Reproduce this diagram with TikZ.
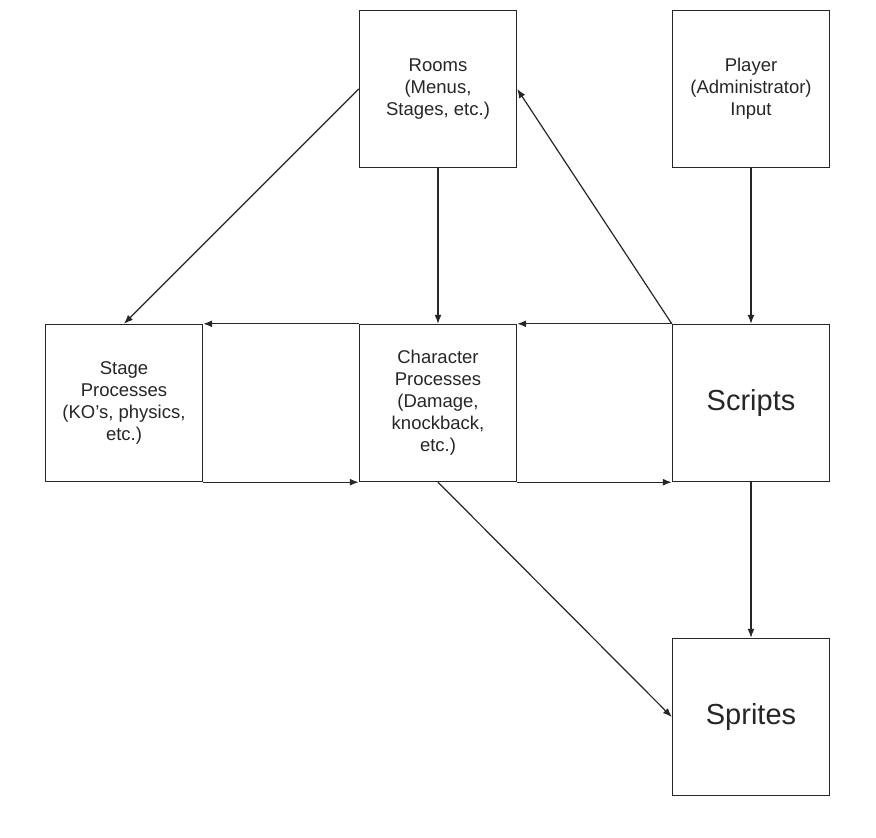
\documentclass[tikz,border=0pt]{standalone}
\usepackage{fontspec}
\setmainfont{Liberation Sans}
\usetikzlibrary{arrows.meta}
\begin{document}
\begin{tikzpicture}[x=1pt,y=-1pt,
  box/.style={draw=black!85, line width=1.4pt, minimum width=157pt, minimum height=157pt, inner sep=0pt, align=center, text=black!85},
  small/.style={font=\fontsize{18.5}{22}\selectfont},
  big/.style={font=\fontsize{29}{34}\selectfont},
  conn/.style={draw=black!85, line width=1.2pt, -{Latex[length=9pt,width=7pt]}}]
\useasboundingbox (0,0) rectangle (876,838);
\node[box,small] (rooms) at (438,89) {Rooms\\(Menus,\\Stages, etc.)};
\node[box,small] (player) at (751,89) {Player\\(Administrator)\\Input};
\node[box,small] (stage) at (124,403) {Stage\\Processes\\(KO's, physics,\\etc.)};
\node[box,small] (char) at (438,403) {Character\\Processes\\(Damage,\\knockback,\\etc.)};
\node[box,big] (scripts) at (751,403) {Scripts};
\node[box,big] (sprites) at (751,717) {Sprites};
\draw[conn] (rooms.west) -- (stage.north);
\draw[conn] (rooms.south) -- (char.north);
\draw[conn] (scripts.north west) -- (rooms.east);
\draw[conn] (player.south) -- (scripts.north);
\draw[conn] (scripts.north west) -- (char.north east);
\draw[conn] (char.north west) -- (stage.north east);
\draw[conn] (stage.south east) -- (char.south west);
\draw[conn] (char.south east) -- (scripts.south west);
\draw[conn] (char.south) -- (sprites.west);
\draw[conn] (scripts.south) -- (sprites.north);
\end{tikzpicture}
\end{document}
